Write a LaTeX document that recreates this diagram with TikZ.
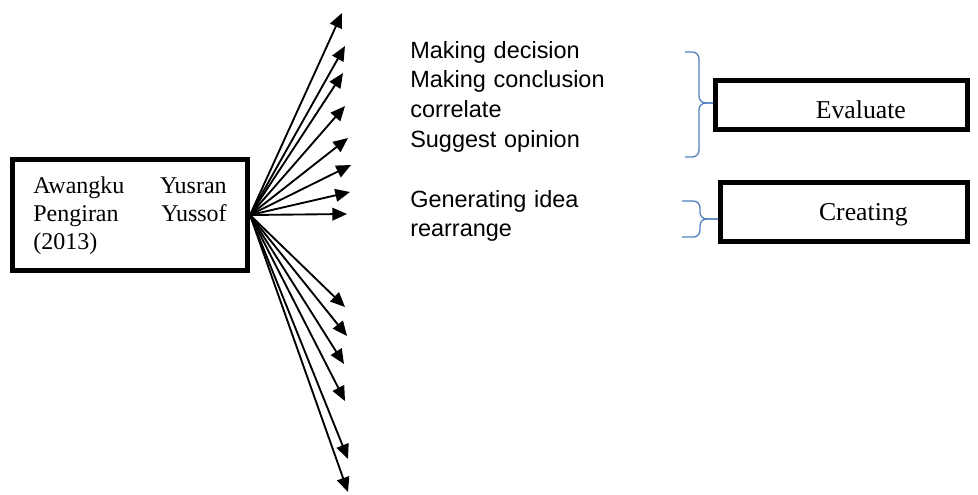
\documentclass[tikz,border=0pt]{standalone}
\usepackage{fontspec}
\usepackage{tikz}
\usetikzlibrary{arrows.meta,positioning}
\setmainfont{Liberation Serif}
\newfontfamily\arialfont{Liberation Sans}
\definecolor{bracecol}{RGB}{79,129,189}
\tikzset{
  box/.style={draw,line width=3.75pt,inner sep=0pt},
  fan/.style={line width=1.4pt,-{Triangle[length=11pt,width=9.5pt]}},
  brc/.style={draw=bracecol,line width=1pt,rounded corners=5pt},
  items/.style={font=\arialfont\fontsize{17.6}{22.3}\selectfont,text width=170pt,align=left,inner sep=0pt,anchor=base west}
}

\begin{document}
\begin{tikzpicture}[x=0.75pt,y=-0.75pt]
      \useasboundingbox (0,0) rectangle (978,494);

      \node[box,minimum width=176.25pt,minimum height=83.25pt,text width=145pt,align=left,
            font=\fontsize{18}{21.2}\selectfont,text height=0pt,text depth=32.5pt] (src) at (130,215)
            {Awangku\hfill Yusran\\Pengiran\hfill Yussof\\(2013)};

      \node[box,minimum width=189pt,minimum height=36.75pt,font=\fontsize{19.3}{22}\selectfont,
            text height=20pt,text depth=0pt] (evaluate) at (841.5,105) {\hspace*{29pt}Evaluate};
      \node[box,minimum width=185.25pt,minimum height=44.25pt,font=\fontsize{19.3}{22}\selectfont,
            text height=16pt,text depth=4pt] (creating) at (844,212) {\hspace*{29pt}Creating};

      \node[items] (evalitems) at (410,58) {Making decision\\Making conclusion\\correlate\\Suggest opinion};
      \node[items] (createitems) at (410,207) {Generating idea\\rearrange};

      % the fan of arrows
      \foreach \tx/\ty [count=\i] in {342/13,345/46,343/73,345/106,348/138,351/165,350/192,347/214,
                                      345/307,347/336,344/364,345/401,348/459,348/492}
      {
        \coordinate (tip\i) at (\tx,\ty);
        \draw[fan] (src.east) -- (tip\i);
      }

      % braces
      \draw[brc] (685,52) -| (699,103) -- (evaluate.west |- 0,103);
      \draw[brc] (685,157) -| (699,103) -- (evaluate.west |- 0,103);
      \draw[brc] (682,201) -| (700,219) -- (creating.west |- 0,219);
      \draw[brc] (682,237) -| (700,219) -- (creating.west |- 0,219);
    \end{tikzpicture}
\end{document}
